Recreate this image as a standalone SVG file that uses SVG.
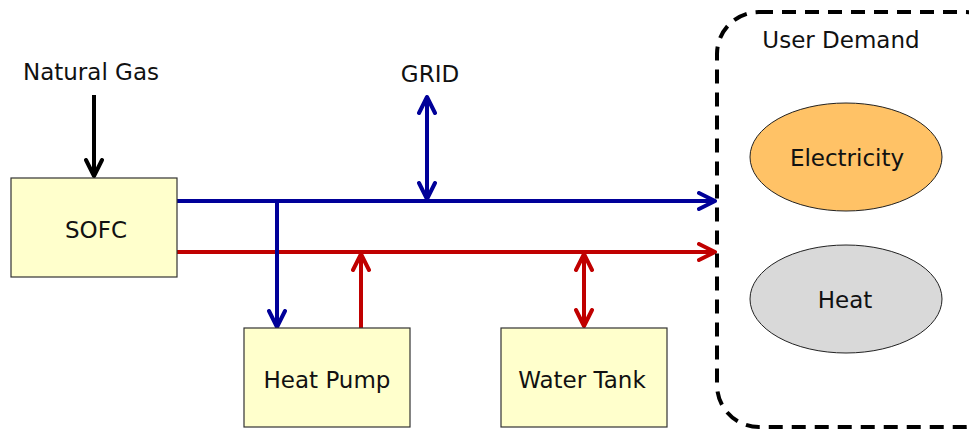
<svg xmlns="http://www.w3.org/2000/svg" width="969" height="432" viewBox="0 0 969 432">
<defs>
<style>
.box{fill:#ffffcc;stroke:#333;stroke-width:1.2}
.t{font-family:"DejaVu Sans",Verdana,sans-serif;font-size:23px;fill:#111;text-anchor:middle}
.blue{stroke:#000099;stroke-width:4;fill:none}
.red{stroke:#c00000;stroke-width:4;fill:none}
.blk{stroke:#000;stroke-width:4;fill:none}
</style>
<marker id="ab" viewBox="0 0 20 20" refX="18" refY="10" markerWidth="20" markerHeight="20" markerUnits="userSpaceOnUse" orient="auto-start-reverse"><path d="M2,2 L18,10 L2,18" fill="none" stroke="#000099" stroke-width="4" stroke-linecap="round" stroke-linejoin="round"/></marker>
<marker id="ar" viewBox="0 0 20 20" refX="18" refY="10" markerWidth="20" markerHeight="20" markerUnits="userSpaceOnUse" orient="auto-start-reverse"><path d="M2,2 L18,10 L2,18" fill="none" stroke="#c00000" stroke-width="4" stroke-linecap="round" stroke-linejoin="round"/></marker>
<marker id="ak" viewBox="0 0 20 20" refX="18" refY="10" markerWidth="20" markerHeight="20" markerUnits="userSpaceOnUse" orient="auto-start-reverse"><path d="M2,2 L18,10 L2,18" fill="none" stroke="#000" stroke-width="4" stroke-linecap="round" stroke-linejoin="round"/></marker>
</defs>
<rect width="969" height="432" fill="#fff"/>
<g id="connectors">
<line class="blk" x1="94" y1="95" x2="94" y2="176" marker-end="url(#ak)"/>
<line class="blue" x1="177" y1="201" x2="715" y2="201" marker-end="url(#ab)"/>
<line class="red" x1="177" y1="252" x2="715" y2="252" marker-end="url(#ar)"/>
<line class="blue" x1="277" y1="201" x2="277" y2="327" marker-end="url(#ab)"/>
<line class="red" x1="361" y1="328" x2="361" y2="254" marker-end="url(#ar)"/>
<line class="red" x1="584" y1="254" x2="584" y2="326" marker-start="url(#ar)" marker-end="url(#ar)"/>
<line class="blue" x1="427" y1="97" x2="427" y2="199" marker-start="url(#ab)" marker-end="url(#ab)"/>
</g>
<g id="natural-gas"><text class="t" x="91" y="80">Natural Gas</text></g>
<g id="grid"><text class="t" x="430" y="82">GRID</text></g>
<g id="sofc"><rect class="box" x="11" y="178" width="166" height="99"/><text class="t" x="96" y="238">SOFC</text></g>
<g id="heat-pump"><rect class="box" x="244" y="328" width="166" height="99"/><text class="t" x="327" y="388">Heat Pump</text></g>
<g id="water-tank"><rect class="box" x="501" y="328" width="166" height="99"/><text class="t" x="582" y="388">Water Tank</text></g>
<g id="user-demand">
<rect x="717" y="12" width="290" height="415" rx="42" ry="42" fill="none" stroke="#000" stroke-width="4" stroke-dasharray="14,9"/>
<text class="t" x="841" y="48">User Demand</text>
</g>
<g id="electricity"><ellipse cx="846" cy="157" rx="96" ry="54" fill="#ffc266" stroke="#222" stroke-width="1"/><text class="t" x="847" y="166">Electricity</text></g>
<g id="heat"><ellipse cx="846" cy="299" rx="96" ry="54" fill="#d9d9d9" stroke="#222" stroke-width="1"/><text class="t" x="845" y="308">Heat</text></g>
</svg>
